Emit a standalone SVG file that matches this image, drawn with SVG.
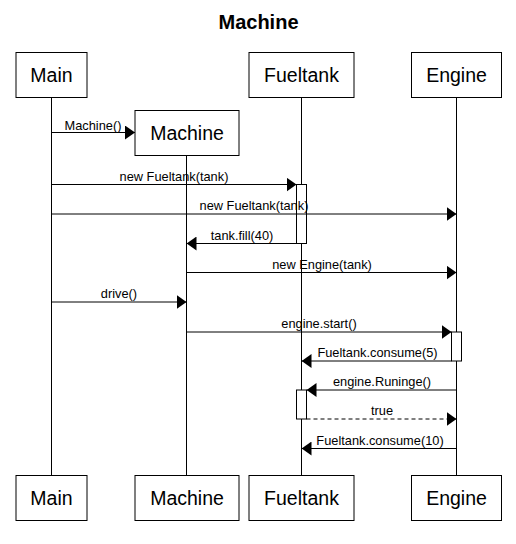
<svg xmlns="http://www.w3.org/2000/svg" width="516" height="544" viewBox="0 0 516 544">
<style>
.box{fill:#fff;stroke:#000;stroke-width:1}
.lbl{font-family:"Liberation Sans",Arial,sans-serif;font-size:19.5px;fill:#000;text-anchor:middle}
.msg{font-family:"Liberation Sans",Arial,sans-serif;font-size:12.8px;fill:#000;text-anchor:middle}
.title{font-family:"Liberation Sans",Arial,sans-serif;font-size:20px;font-weight:bold;fill:#000;text-anchor:middle}
.life{stroke:#000;stroke-width:1;fill:none}
.m{stroke:#000;stroke-width:1;fill:none;marker-end:url(#ah)}
.d{stroke-dasharray:4 3}
.act{fill:#fff;stroke:#000;stroke-width:1}
</style>
<defs>
<marker id="ah" viewBox="0 0 10 14" refX="10" refY="7" markerWidth="10" markerHeight="14" markerUnits="userSpaceOnUse" orient="auto">
<path d="M0,0 L10,7 L0,14 Z" fill="#000"/>
</marker>
</defs>
<rect width="516" height="544" fill="#fff"/>
<text class="title" x="258.5" y="29">Machine</text>
<g id="lifelines">
<line class="life" x1="51.5" y1="97" x2="51.5" y2="475"/>
<line class="life" x1="186.5" y1="155" x2="186.5" y2="475"/>
<line class="life" x1="301.5" y1="97" x2="301.5" y2="475"/>
<line class="life" x1="456.5" y1="97" x2="456.5" y2="475"/>
</g>
<g id="node-main-top"><rect class="box" x="16" y="52.5" width="71" height="45"/><text class="lbl" x="51.5" y="81.5">Main</text></g>
<g id="node-fueltank-top"><rect class="box" x="249" y="52.5" width="105" height="45"/><text class="lbl" x="301.5" y="81.5">Fueltank</text></g>
<g id="node-engine-top"><rect class="box" x="411.5" y="52.5" width="90" height="45"/><text class="lbl" x="456.5" y="81.5">Engine</text></g>
<g id="node-machine-top"><rect class="box" x="135" y="110.5" width="104" height="45"/><text class="lbl" x="187" y="139.5">Machine</text></g>
<g id="node-main-bottom"><rect class="box" x="16" y="475.5" width="71" height="45"/><text class="lbl" x="51.5" y="504.5">Main</text></g>
<g id="node-machine-bottom"><rect class="box" x="135" y="475.5" width="104" height="45"/><text class="lbl" x="187" y="504.5">Machine</text></g>
<g id="node-fueltank-bottom"><rect class="box" x="249" y="475.5" width="105" height="45"/><text class="lbl" x="301.5" y="504.5">Fueltank</text></g>
<g id="node-engine-bottom"><rect class="box" x="411.5" y="475.5" width="90" height="45"/><text class="lbl" x="456.5" y="504.5">Engine</text></g>
<g id="activations">
<rect class="act" x="296.5" y="184.5" width="10" height="59"/>
<rect class="act" x="451.5" y="332" width="10" height="29"/>
<rect class="act" x="296.5" y="390" width="10" height="29"/>
</g>
<g id="connectors">
<line class="m" x1="51.5" y1="132.5" x2="135" y2="132.5"/>
<text class="msg" x="93" y="129.5">Machine()</text>
<line class="m" x1="51.5" y1="184.5" x2="296.5" y2="184.5"/>
<text class="msg" x="174" y="181">new Fueltank(tank)</text>
<line class="m" x1="51.5" y1="214" x2="456.5" y2="214"/>
<text class="msg" x="254" y="210">new Fueltank(tank)</text>
<line class="m" x1="296.5" y1="243.5" x2="186.5" y2="243.5"/>
<text class="msg" x="242" y="240">tank.fill(40)</text>
<line class="m" x1="186.5" y1="272.5" x2="456.5" y2="272.5"/>
<text class="msg" x="322" y="268.5">new Engine(tank)</text>
<line class="m" x1="51.5" y1="302" x2="186.5" y2="302"/>
<text class="msg" x="119" y="297.5">drive()</text>
<line class="m" x1="186.5" y1="332" x2="451.5" y2="332"/>
<text class="msg" x="319" y="328">engine.start()</text>
<line class="m" x1="451.5" y1="361" x2="301.5" y2="361"/>
<text class="msg" x="377.5" y="357">Fueltank.consume(5)</text>
<line class="m" x1="456.5" y1="390" x2="306.5" y2="390"/>
<text class="msg" x="382" y="386">engine.Runinge()</text>
<line class="m d" x1="306.5" y1="419" x2="456.5" y2="419"/>
<text class="msg" x="382" y="415">true</text>
<line class="m" x1="456.5" y1="448.5" x2="301.5" y2="448.5"/>
<text class="msg" x="380" y="444.5">Fueltank.consume(10)</text>
</g>
</svg>
